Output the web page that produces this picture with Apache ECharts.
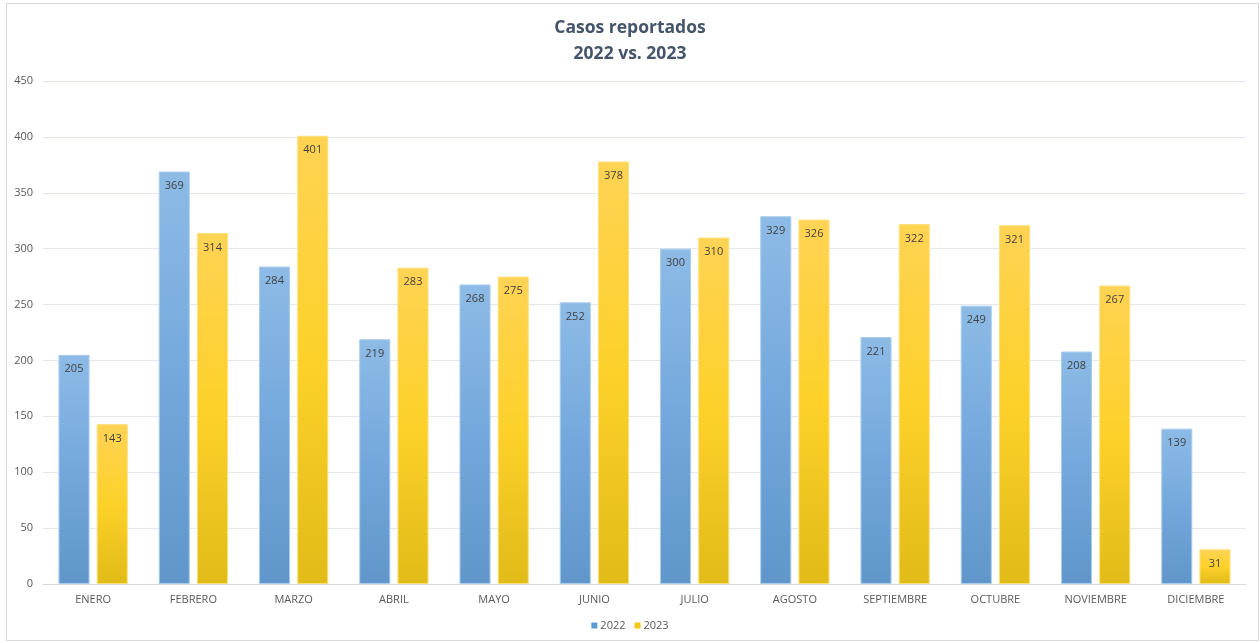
<!DOCTYPE html>
<html>
<head>
<meta charset="utf-8">
<script src="https://cdn.jsdelivr.net/npm/echarts@6/dist/echarts.min.js"></script>
<style>
  html, body { margin: 0; padding: 0; background: #fff; }
  #frame { position: absolute; left: 6px; top: 3px; width: 1251px; height: 636px; border: 1px solid #d9d9d9; }
  #chart { position: absolute; left: 0; top: 0; width: 1260px; height: 643px; }
</style>
</head>
<body>
<div id="frame"></div>
<div id="chart"></div>
<script>
var months = ['ENERO', 'FEBRERO', 'MARZO', 'ABRIL', 'MAYO', 'JUNIO', 'JULIO', 'AGOSTO', 'SEPTIEMBRE', 'OCTUBRE', 'NOVIEMBRE', 'DICIEMBRE'];
var cases2022 = [205, 369, 284, 219, 268, 252, 300, 329, 221, 249, 208, 139];
var cases2023 = [143, 314, 401, 283, 275, 378, 310, 326, 322, 321, 267, 31];

var myChart = echarts.init(document.getElementById('chart'));

// degradados tipo Excel
var blueFill = new echarts.graphic.LinearGradient(0, 0, 0, 1, [
  { offset: 0, color: '#8dbbe6' },
  { offset: 0.5, color: '#74a8dc' },
  { offset: 1, color: '#6096c9' }
]);
var yellowFill = new echarts.graphic.LinearGradient(0, 0, 0, 1, [
  { offset: 0, color: '#ffd354' },
  { offset: 0.5, color: '#fdd129' },
  { offset: 1, color: '#e1bb18' }
]);

var labelStyle = {
  show: true,
  position: 'insideTop',
  distance: 9,
  color: '#404040',
  fontSize: 11,
  fontFamily: 'Open Sans'
};

var option = {
  animation: false,
  title: {
    text: 'Casos reportados\n2022 vs. 2023',
    left: 'center',
    top: 10,
    textStyle: {
      color: '#44546a',
      fontSize: 17.5,
      fontWeight: 'bold',
      fontFamily: 'Open Sans',
      lineHeight: 26
    }
  },
  legend: {
    bottom: 7,
    left: 'center',
    itemWidth: 6,
    itemHeight: 6,
    itemGap: 9,
    icon: 'rect',
    textStyle: { color: '#595959', fontSize: 11, fontFamily: 'Open Sans', padding: [0, 0, 0, -2] },
    data: [
      { name: '2022', itemStyle: { color: '#5b9bd5', borderWidth: 0 } },
      { name: '2023', itemStyle: { color: '#f5c518', borderWidth: 0 } }
    ]
  },
  grid: { left: 43, right: 14, top: 81, bottom: 59 },
  xAxis: {
    type: 'category',
    data: months,
    axisTick: { show: false },
    axisLine: { lineStyle: { color: '#d9d9d9' } },
    axisLabel: { color: '#595959', fontSize: 11, fontFamily: 'Open Sans', margin: 10 }
  },
  yAxis: {
    type: 'value',
    min: 0,
    max: 450,
    interval: 50,
    axisLine: { show: false },
    axisTick: { show: false },
    splitLine: { lineStyle: { color: '#e4e8ee' } },
    axisLabel: { color: '#595959', fontSize: 11, fontFamily: 'Open Sans', margin: 10 }
  },
  series: [{
    name: '2022',
    type: 'bar',
    data: cases2022,
    barWidth: '31%',
    barGap: '23%',
    itemStyle: { color: blueFill, borderColor: '#a9cdee', borderWidth: 1 },
    label: labelStyle
  }, {
    name: '2023',
    type: 'bar',
    data: cases2023,
    barWidth: '31%',
    itemStyle: { color: yellowFill, borderColor: '#ffe07a', borderWidth: 1 },
    label: labelStyle
  }]
};

myChart.setOption(option);
</script>
</body>
</html>
